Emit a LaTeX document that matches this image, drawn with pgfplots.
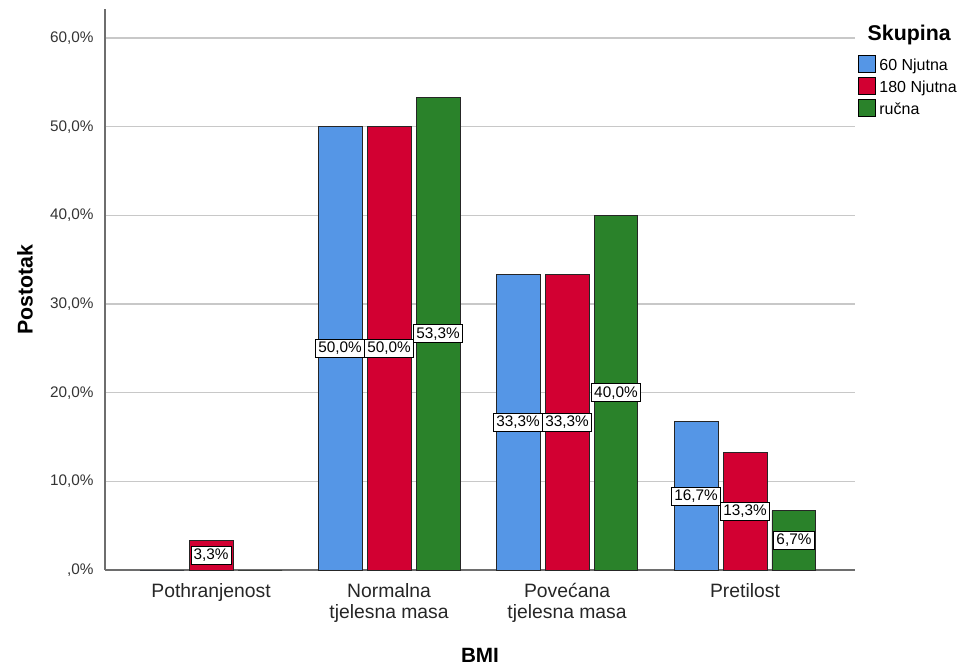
\documentclass[border=0pt]{standalone}
\usepackage{pgfplots}
\pgfplotsset{compat=1.18}
\usepackage{fontspec}
\setmainfont{Liberation Sans}

\definecolor{cblue}{RGB}{85,150,230}
\definecolor{cred}{RGB}{210,0,50}
\definecolor{cgreen}{RGB}{42,130,42}
\definecolor{gridc}{RGB}{200,200,200}
\definecolor{axc}{RGB}{110,110,110}

\begin{document}
\begin{tikzpicture}
\begin{axis}[
  scale only axis,
  width=562.5pt, height=420.75pt,
  xmin=-0.596, xmax=3.618,
  ymin=0, ymax=63.27,
  axis lines=left,
  axis line style={-, axc, line width=0.9pt},
  ymajorgrids, grid style={gridc, line width=0.8pt},
  major tick length=0pt,
  ytick={0,10,20,30,40,50,60},
  yticklabels={{,0\%},{10,0\%},{20,0\%},{30,0\%},{40,0\%},{50,0\%},{60,0\%}},
  yticklabel style={font=\fontsize{11.5}{12}\selectfont, text=black!80, xshift=-5pt},
  xtick={0,1,2,3},
  xticklabels={Pothranjenost,{Normalna\\tjelesna masa},{Povećana\\tjelesna masa},Pretilost},
  xticklabel style={font=\fontsize{14.5}{16}\selectfont, align=center, anchor=north, yshift=-6.5pt, text=black!85},
  xlabel={\textbf{BMI}},
  ylabel={\textbf{Postotak}},
  xlabel style={font=\fontsize{15.5}{16}\selectfont, at={(axis description cs:0.5,-0.1515)}, anchor=center},
  ylabel style={font=\fontsize{16}{16}\selectfont, at={(axis description cs:-0.1067,0.5)}, anchor=center},
  ybar, bar width=0.247,
  legend style={at={(rel axis cs:1,1)}, anchor=north west, xshift=2.25pt, yshift=-34.1pt,
    draw=none, fill=none, font=\fontsize{12}{12}\selectfont, row sep=0pt, column sep=2.5pt,
    nodes={inner sep=0pt, text height=12pt, text depth=4.5pt},
    legend cell align=left, inner sep=0pt},
  legend image code/.code={\draw[#1, draw=black, line width=0.6pt] (0pt,-5.3pt) rectangle (12.75pt,7.45pt);},
  every node near coord/.style={anchor=center, fill=white, draw=black, line width=0.6pt,
    font=\fontsize{11.5}{12}\selectfont, inner sep=2pt, text=black},
  clip=false,
]
\addplot[bar shift=-0.275, fill=cblue, draw=black!85, line width=0.7pt]
  coordinates {(0,0) (1,50.0) (2,33.3) (3,16.7)};
\addplot[bar shift=0, fill=cred, draw=black!85, line width=0.7pt]
  coordinates {(0,3.3) (1,50.0) (2,33.3) (3,13.3)};
\addplot[bar shift=0.275, fill=cgreen, draw=black!85, line width=0.7pt]
  coordinates {(0,0) (1,53.3) (2,40.0) (3,6.7)};
\legend{60 Njutna,180 Njutna,ručna}

% value labels at half bar height
\addplot[forget plot, draw=none, mark=none, only marks, point meta=explicit symbolic, nodes near coords]
  coordinates {(0.725,25.0) [50,0\%] (1.725,16.65) [33,3\%] (2.725,8.35) [16,7\%]};
\addplot[forget plot, draw=none, mark=none, only marks, point meta=explicit symbolic, nodes near coords]
  coordinates {(0,1.65) [3,3\%] (1,25.0) [50,0\%] (2,16.65) [33,3\%] (3,6.65) [13,3\%]};
\addplot[forget plot, draw=none, mark=none, only marks, point meta=explicit symbolic, nodes near coords]
  coordinates {(1.275,26.65) [53,3\%] (2.275,20.0) [40,0\%] (3.275,3.35) [6,7\%]};

\node[anchor=west, font=\bfseries\fontsize{16}{16}\selectfont] at ([xshift=6pt,yshift=-19.5pt]rel axis cs:1,1) {Skupina};
\coordinate (ll) at (rel axis cs:0,0);
\coordinate (ur) at (rel axis cs:1,1);
\end{axis}
\pgfresetboundingbox
\path ([xshift=-78.75pt,yshift=-72.75pt]ll) rectangle ([xshift=84pt,yshift=6.75pt]ur);
\end{tikzpicture}
\end{document}
